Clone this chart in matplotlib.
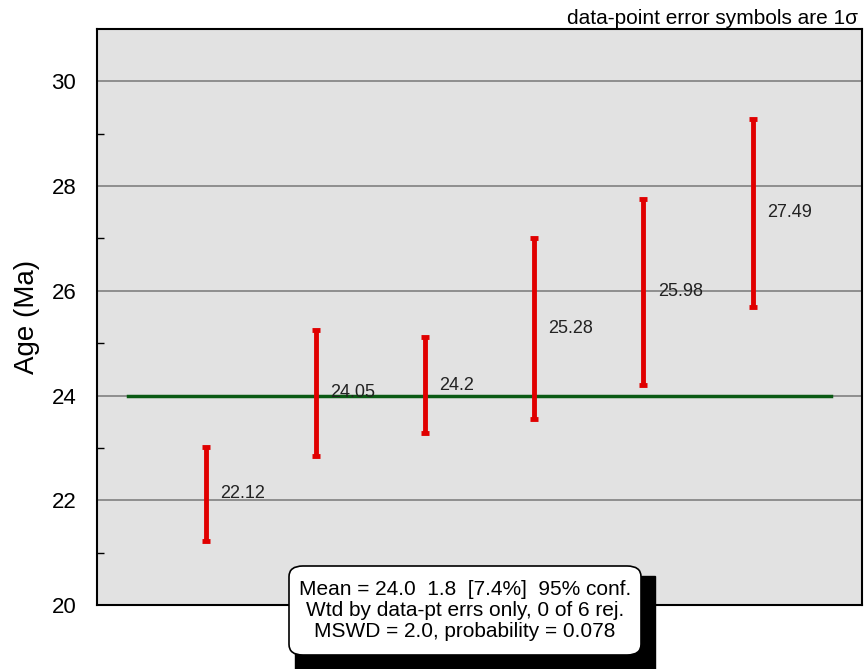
import numpy as np
import matplotlib.pyplot as plt
from matplotlib.patches import FancyBboxPatch

plt.rcParams['font.family'] = ['Liberation Sans', 'DejaVu Sans']

# weighted mean plot of six ages (1 sigma errors)
ages = [22.12, 24.05, 24.2, 25.28, 25.98, 27.49]
errs = [0.90, 1.20, 0.92, 1.72, 1.78, 1.80]
mean_age = 24.0
mean_lines = ["Mean = 24.0  1.8  [7.4%]  95% conf.",
              "Wtd by data-pt errs only, 0 of 6 rej.",
              "MSWD = 2.0, probability = 0.078"]

W, H = 866, 669
fig = plt.figure(figsize=(W/100, H/100), dpi=100)
ax = fig.add_axes([97/W, 1-605/H, 765/W, 576/H])
ax.set_facecolor('#e2e2e2')

x = np.arange(1, len(ages) + 1)
ax.set_xlim(0, len(ages) + 1)
ax.set_ylim(20, 31)

for yy in range(22, 31, 2):
    ax.axhline(yy, color='#808080', lw=1.2, zorder=1)

ax.plot([0.28, 6.72], [mean_age, mean_age], color='#0a5a14', lw=2.5, zorder=2)

ax.errorbar(x, ages, yerr=errs, fmt='none', ecolor='#e00000', elinewidth=3.5,
            capsize=2.6, capthick=3.5, zorder=3)
for xi, a in zip(x, ages):
    ax.text(xi + 0.13, a, '%g' % a, fontsize=13, va='center', ha='left',
            color='#222222', zorder=4)

ax.set_xticks([])
ax.set_yticks(range(20, 31, 2))
ax.set_yticks(range(21, 31, 2), minor=True)
ax.tick_params(axis='y', which='major', length=0, labelsize=16, pad=15)
ax.tick_params(axis='y', which='minor', direction='in', length=5, width=1)
for s in ax.spines.values():
    s.set_linewidth(1.5)
ax.set_ylabel('Age (Ma)', fontsize=20, labelpad=8)

fig.text(858/W, 1-18/H, 'data-point error symbols are 1\u03c3',
         fontsize=15, ha='right', va='center')

# summary box with drop shadow
bx0, by0, bw, bh = 289/W, 1-655/H, 352/W, 89/H
shadow = FancyBboxPatch((295/W, 0), 360/W, 1-576/H,
                        boxstyle='square,pad=0', transform=fig.transFigure,
                        facecolor='black', edgecolor='black', zorder=5)
box = FancyBboxPatch((bx0, by0), bw, bh,
                     boxstyle='round,pad=0,rounding_size=0.016',
                     transform=fig.transFigure, facecolor='white',
                     edgecolor='black', lw=1.2, zorder=6)
fig.patches.extend([shadow, box])
fig.text(bx0 + bw/2, by0 + bh/2, '\n'.join(mean_lines), fontsize=15,
         ha='center', va='center', linespacing=1.12, zorder=7)

fig.savefig('out.png', dpi=100)
